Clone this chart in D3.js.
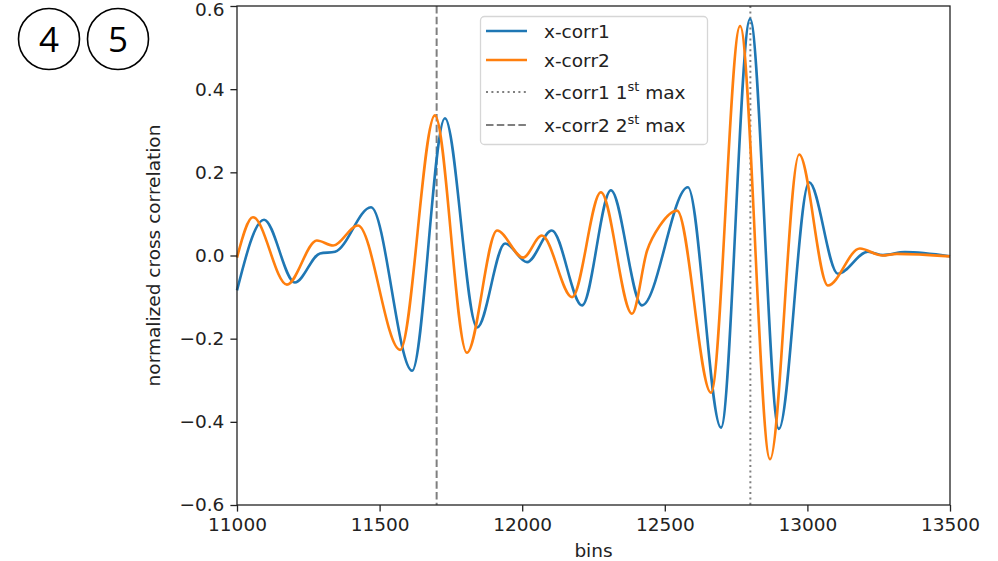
<!DOCTYPE html>
<html>
<head>
    <meta charset="utf-8">
    <title>x-corr</title>
    <script src="https://d3js.org/d3.v7.min.js"></script>
    <style>
        body { margin: 0; background: #fff; }
        svg { display: block; font-family: "DejaVu Sans", sans-serif; }
    </style>
</head>
<body>
    <div id="chart"></div>
    <script>
        // data (extrema + a few in-between points)
        const corr1Bins = [11000, 11095, 11203, 11291, 11344, 11470, 11614, 11729, 11842, 11940, 12017, 12104, 12210, 12311, 12420, 12581, 12697, 12799, 12900, 13006, 13107, 13212, 13265, 13342, 13500];
        const corr1Vals = [-0.084, 0.086, -0.065, 0.005, 0.009, 0.116, -0.277, 0.33, -0.173, 0.029, -0.016, 0.06, -0.12, 0.157, -0.12, 0.164, -0.414, 0.569, -0.417, 0.176, -0.044, 0.009, 0.001, 0.008, -0.002];

        const corr2Bins = [11000, 11056, 11175, 11280, 11337, 11424, 11572, 11694, 11806, 11912, 12003, 12069, 12175, 12276, 12385, 12438, 12483, 12543, 12662, 12764, 12869, 12971, 13072, 13184, 13262, 13314, 13500];
        const corr2Vals = [-0.005, 0.092, -0.07, 0.036, 0.024, 0.072, -0.227, 0.337, -0.234, 0.06, -0.005, 0.048, -0.1, 0.152, -0.14, 0.012, 0.072, 0.108, -0.33, 0.552, -0.49, 0.243, -0.072, 0.017, 0.0, 0.004, -0.002];

        const max1Bin = 12800;   // dotted
        const max2Bin = 11700;   // dashed

        const xTicks = [11000, 11500, 12000, 12500, 13000, 13500];
        const yTicks = [-0.6, -0.4, -0.2, 0.0, 0.2, 0.4, 0.6];

        const W = 998, H = 561;
        const margin = { left: 237, right: 48, top: 6, bottom: 56 };

        const svg = d3.select("#chart").append("svg")
            .attr("width", W).attr("height", H);

        // circled labels
        const badges = [{ t: "4", cx: 49, cy: 39 }, { t: "5", cx: 118, cy: 39 }];
        const bg = svg.append("g").selectAll("g").data(badges).join("g")
            .attr("transform", d => `translate(${d.cx},${d.cy})`);
        bg.append("circle").attr("r", 30.5).attr("fill", "none")
            .attr("stroke", "#000").attr("stroke-width", 1.6);
        bg.append("text").attr("text-anchor", "middle").attr("dy", "0.36em")
            .style("font-size", "35px").style("font-family", "Open Sans").text(d => d.t);

        const x = d3.scaleLinear().domain([11000, 13500]).range([margin.left, W - margin.right]);
        const y = d3.scaleLinear().domain([-0.6, 0.6]).range([H - margin.bottom, margin.top]);

        const line = d3.line()
            .x(d => x(d[0]))
            .y(d => y(d[1]))
            .curve(d3.curveMonotoneX);

        const plot = svg.append("g");

        // vertical markers
        plot.append("line")
            .attr("x1", x(max2Bin)).attr("x2", x(max2Bin))
            .attr("y1", y(0.6)).attr("y2", y(-0.6))
            .attr("stroke", "#7f7f7f").attr("stroke-width", 2)
            .attr("stroke-dasharray", "7.5,3.3");
        plot.append("line")
            .attr("x1", x(max1Bin)).attr("x2", x(max1Bin))
            .attr("y1", y(0.6)).attr("y2", y(-0.6))
            .attr("stroke", "#7f7f7f").attr("stroke-width", 2)
            .attr("stroke-dasharray", "2,3.4");

        const s1 = d3.zip(corr1Bins, corr1Vals);
        const s2 = d3.zip(corr2Bins, corr2Vals);

        plot.append("path").datum(s1)
            .attr("fill", "none").attr("stroke", "#1f77b4").attr("stroke-width", 2.6)
            .attr("d", line);
        plot.append("path").datum(s2)
            .attr("fill", "none").attr("stroke", "#ff7f0e").attr("stroke-width", 2.6)
            .attr("d", line);

        // axes
        const xAxis = svg.append("g")
            .attr("transform", `translate(0,${H - margin.bottom})`)
            .call(d3.axisBottom(x).tickValues(xTicks).tickFormat(d3.format("d")).tickSizeOuter(0).tickSize(6.6).tickPadding(6));
        const yAxis = svg.append("g")
            .attr("transform", `translate(${margin.left},0)`)
            .call(d3.axisLeft(y).tickValues(yTicks).tickFormat(d3.format(".1f")).tickSizeOuter(0).tickSize(6.6).tickPadding(6));

        [xAxis, yAxis].forEach(a => {
            a.selectAll("text").style("font-size", "18.5px").attr("fill", "#222")
                .style("font-family", "DejaVu Sans");
            a.selectAll("line").attr("stroke", "#222").attr("stroke-width", 1.3);
            a.select(".domain").remove();
        });
        // keep the top label inside the page
        yAxis.selectAll(".tick text").filter(d => d === 0.6).attr("dy", "0.5em");

        // spines
        svg.append("rect")
            .attr("x", margin.left).attr("y", margin.top)
            .attr("width", W - margin.right - margin.left)
            .attr("height", H - margin.bottom - margin.top)
            .attr("fill", "none").attr("stroke", "#222").attr("stroke-width", 1.3);

        svg.append("text")
            .attr("x", (margin.left + W - margin.right) / 2).attr("y", 557)
            .attr("text-anchor", "middle").style("font-size", "18.5px").attr("fill", "#222")
            .text("bins");
        svg.append("text")
            .attr("transform", `translate(160,${(margin.top + H - margin.bottom) / 2}) rotate(-90)`)
            .attr("text-anchor", "middle").style("font-size", "18.5px").attr("fill", "#222")
            .text("normalized cross correlation");

        // legend
        const legendItems = [
            { name: "x-corr1", sup: "", tail: "", color: "#1f77b4", dash: null, width: 2.6, cy: 31 },
            { name: "x-corr2", sup: "", tail: "", color: "#ff7f0e", dash: null, width: 2.6, cy: 60 },
            { name: "x-corr1 1", sup: "st", tail: " max", color: "#7f7f7f", dash: "2,3.4", width: 2, cy: 92 },
            { name: "x-corr2 2", sup: "st", tail: " max", color: "#7f7f7f", dash: "7.5,3.3", width: 2, cy: 125 }
        ];
        const lg = svg.append("g");
        lg.append("rect")
            .attr("x", 480.5).attr("y", 16.5).attr("width", 227).attr("height", 128)
            .attr("rx", 4).attr("fill", "#fff").attr("fill-opacity", 0.8)
            .attr("stroke", "#d6d6d6").attr("stroke-width", 1.3);
        const li = lg.selectAll("g.item").data(legendItems).join("g").attr("class", "item");
        li.append("line")
            .attr("x1", 486).attr("x2", 527)
            .attr("y1", d => d.cy).attr("y2", d => d.cy)
            .attr("stroke", d => d.color).attr("stroke-width", d => d.width)
            .attr("stroke-dasharray", d => d.dash);
        const lt = li.append("text")
            .attr("x", 544).attr("y", d => d.cy + 6.5)
            .style("font-size", "18.5px").attr("fill", "#222");
        lt.append("tspan").text(d => d.name);
        lt.append("tspan").attr("dy", d => d.sup ? -8 : null).style("font-size", "13px").text(d => d.sup);
        lt.append("tspan").attr("dy", d => d.sup ? 8 : null).text(d => d.tail);
    </script>
</body>
</html>
